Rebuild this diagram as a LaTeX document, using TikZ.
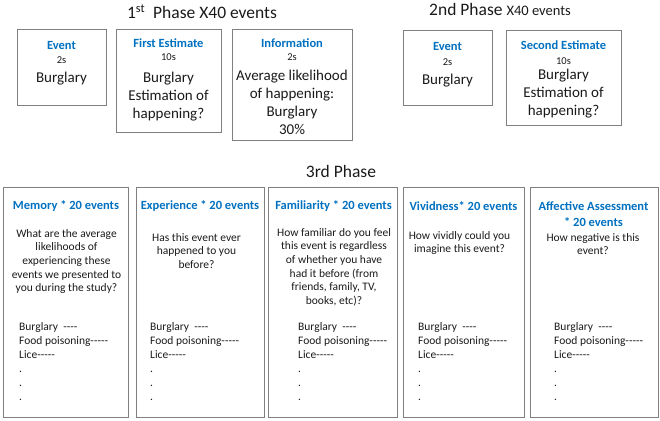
\documentclass[tikz,border=0pt]{standalone}
\usepackage{fontspec}
\setmainfont{Carlito}
\definecolor{hblue}{HTML}{0070C0}
\definecolor{boxgray}{HTML}{808080}
\definecolor{txt}{HTML}{1A1A1A}
\tikzset{
  panel/.style={draw=boxgray, line width=0.9pt},
  hd/.style={inner sep=0pt, text=hblue, align=center, font={\fontsize{12.5}{16}\selectfont\bfseries}},
  sm/.style={inner sep=0pt, text=txt, font={\fontsize{10.5}{12}\selectfont}},
  big/.style={inner sep=0pt, text=txt, align=center, font={\fontsize{15}{18}\selectfont}},
  body/.style={inner sep=0pt, text=txt, align=center, font={\fontsize{11.5}{13.6}\selectfont}},
  lst/.style={inner sep=0pt, text=txt, align=left, anchor=west, font={\fontsize{11.5}{14}\selectfont}},
  ttl/.style={inner sep=0pt, text=txt, font={\fontsize{17.5}{20}\selectfont}}
}
\newcommand{\evlist}{Burglary\ \ -{}-{}-{}-\\Food poisoning-{}-{}-{}-{}-\\Lice-{}-{}-{}-{}-\\.\\.\\.}
\begin{document}
\begin{tikzpicture}[x=1pt,y=-1pt]
\useasboundingbox (0,0) rectangle (660,420);
% titles
\node[ttl] (t1) at (202,12) {1\textsuperscript{st}\ \ Phase X40 events};
\node[ttl] (t2) at (500,9) {2nd Phase {\fontsize{14.5}{16}\selectfont X40 events}};
\node[ttl] (t3) at (341,171) {3rd Phase};
% phase 1
\draw[panel] (17,29) rectangle (106,105);
\node[hd] (e1h) at (61.5,45) {Event};
\node[sm] (e1s) at (61.5,60) {2s};
\node[big] (e1b) at (61.5,79) {Burglary};
\draw[panel] (116,29) rectangle (221,132);
\node[hd] (feh) at (168.5,43) {First Estimate};
\node[sm] (fes) at (168.5,57) {10s};
\node[big] (feb) at (168.5,97) {Burglary\\Estimation of\\happening?};
\draw[panel] (232,29) rectangle (352,140);
\node[hd] (infh) at (292,43) {Information};
\node[sm] (infs) at (292,57) {2s};
\node[big] (infb) at (292,102) {Average likelihood\\of happening:\\Burglary\\30\%};
% phase 2
\draw[panel] (403,30) rectangle (492,105);
\node[hd] (e2h) at (447.5,46) {Event};
\node[sm] (e2s) at (447.5,62) {2s};
\node[big] (e2b) at (447.5,81) {Burglary};
\draw[panel] (506,30) rectangle (621,125);
\node[hd] (seh) at (563.5,45) {Second Estimate};
\node[sm] (ses) at (563.5,61) {10s};
\node[big] (seb) at (563.5,94) {Burglary\\Estimation of\\happening?};
% phase 3
\draw[panel] (3,187) rectangle (128,417);
\draw[panel] (136,187) rectangle (264,417);
\draw[panel] (268,187) rectangle (397,417);
\draw[panel] (403,187) rectangle (524,417);
\draw[panel] (530,187) rectangle (658,417);
\node[hd] (mh) at (66,206) {Memory * 20 events};
\node[hd] (xh) at (200,206) {Experience * 20 events};
\node[hd] (fh) at (333.5,206) {Familiarity * 20 events};
\node[hd] (vh) at (463.5,206) {Vividness* 20 events};
\node[hd] (ah) at (593.5,214) {Affective Assessment\\* 20 events};
\node[body] (mq) at (66.5,261.5) {What are the average\\likelihoods of\\experiencing these\\events we presented to\\you during the study?};
\node[body] (xq) at (196.5,251) {Has this event ever\\happened to you\\before?};
\node[body] (fq) at (334,267) {How familiar do you feel\\this event is regardless\\of whether you have\\had it before (from\\friends, family, TV,\\books, etc)?};
\node[body] (vq) at (459.5,243) {How vividly could you\\imagine this event?};
\node[body] (aq) at (593,244) {How negative is this\\event?};
\node[lst] (ml) at (19,362) {\evlist};
\node[lst] (xl) at (150,362) {\evlist};
\node[lst] (fl) at (298,362) {\evlist};
\node[lst] (vl) at (418,362) {\evlist};
\node[lst] (al) at (554,362) {\evlist};
\end{tikzpicture}
\end{document}
